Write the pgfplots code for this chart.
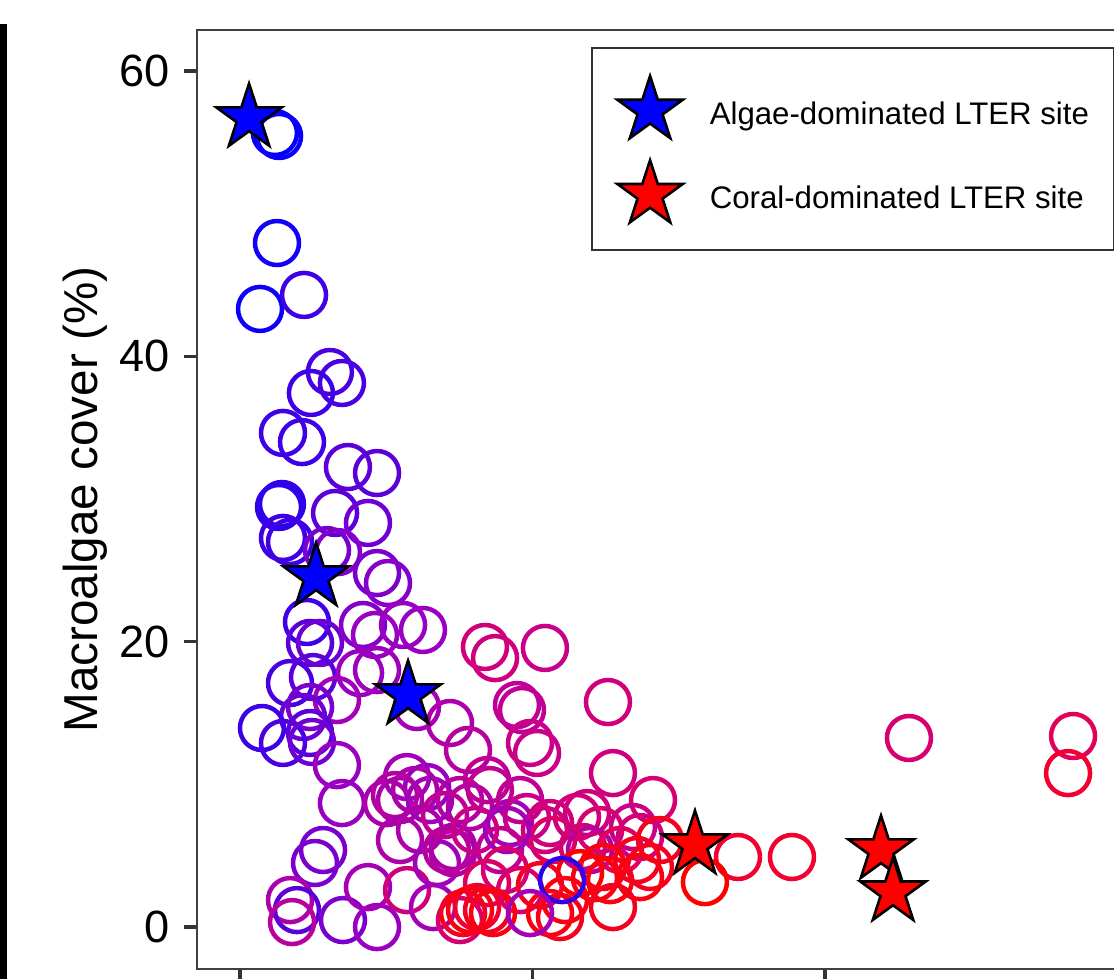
\documentclass[border=0pt]{standalone}
\usepackage{fontspec}
\setmainfont{Liberation Sans}
\usepackage{pgfplots}
\pgfplotsset{compat=1.18}
\usepackage{pgfplotstable}

\pgfdeclareplotmark{fstar}{%
  \pgfpathmoveto{\pgfpointpolar{90}{\pgfplotmarksize}}%
  \pgfpathlineto{\pgfpointpolar{126}{0.382\pgfplotmarksize}}%
  \pgfpathlineto{\pgfpointpolar{162}{\pgfplotmarksize}}%
  \pgfpathlineto{\pgfpointpolar{198}{0.382\pgfplotmarksize}}%
  \pgfpathlineto{\pgfpointpolar{234}{\pgfplotmarksize}}%
  \pgfpathlineto{\pgfpointpolar{270}{0.382\pgfplotmarksize}}%
  \pgfpathlineto{\pgfpointpolar{306}{\pgfplotmarksize}}%
  \pgfpathlineto{\pgfpointpolar{342}{0.382\pgfplotmarksize}}%
  \pgfpathlineto{\pgfpointpolar{18}{\pgfplotmarksize}}%
  \pgfpathlineto{\pgfpointpolar{54}{0.382\pgfplotmarksize}}%
  \pgfpathclose
  \pgfusepathqfillstroke
}

\pgfplotstableread{
x y c
2.39 55.65 0.00
2.67 55.44 0.02
2.53 47.94 0.03
1.37 43.32 0.02
4.38 44.30 0.10
6.15 38.90 0.12
6.97 38.13 0.12
4.85 37.43 0.10
2.94 34.63 0.10
4.24 33.99 0.10
7.38 32.24 0.15
9.37 31.82 0.15
2.87 29.65 0.08
2.67 29.44 0.08
2.94 27.27 0.10
3.42 26.99 0.10
6.50 29.02 0.15
8.75 28.32 0.18
5.95 26.42 0.20
6.70 26.28 0.22
9.37 24.81 0.20
10.12 24.11 0.22
4.58 21.38 0.10
4.79 19.91 0.15
5.47 19.91 0.18
8.41 21.17 0.22
9.23 20.47 0.25
11.15 21.17 0.25
12.51 20.82 0.25
3.42 17.10 0.12
4.99 17.52 0.15
8.21 17.80 0.25
9.37 18.01 0.28
6.63 15.91 0.30
4.79 15.42 0.20
4.31 14.72 0.18
1.50 13.95 0.10
2.94 12.90 0.12
4.79 13.60 0.15
4.92 12.97 0.18
12.10 15.42 0.30
14.36 14.30 0.35
15.59 12.41 0.40
6.63 11.35 0.25
6.97 8.69 0.25
16.75 19.63 0.55
17.44 18.85 0.55
20.85 19.56 0.50
11.42 10.51 0.30
12.79 9.81 0.25
10.94 8.90 0.35
10.60 9.25 0.40
10.05 8.69 0.35
15.04 8.90 0.40
5.68 5.40 0.20
5.13 4.49 0.20
3.42 1.89 0.35
3.90 1.19 0.15
3.56 0.35 0.40
7.04 0.49 0.20
9.37 0.00 0.25
8.75 2.80 0.30
11.42 2.59 0.55
10.94 6.10 0.35
12.31 6.80 0.35
13.47 4.49 0.30
14.56 5.19 0.40
18.94 15.56 0.45
19.28 15.21 0.45
19.83 12.90 0.50
20.31 12.20 0.50
25.16 15.77 0.55
25.50 10.79 0.55
16.89 10.30 0.45
17.09 9.60 0.45
15.73 8.41 0.40
18.46 7.29 0.30
19.62 7.71 0.50
23.04 7.71 0.55
23.73 7.99 0.55
14.56 5.61 0.35
14.15 5.40 0.40
17.78 5.40 0.45
21.40 6.10 0.65
23.45 5.61 0.60
13.20 1.40 0.30
16.89 3.08 0.65
12.99 8.90 0.30
11.97 9.60 0.35
14.02 7.85 0.45
16.07 6.80 0.50
19.15 8.90 0.45
20.85 6.80 0.55
28.24 8.90 0.60
21.20 7.29 0.55
18.26 6.80 0.30
26.87 7.01 0.50
27.35 6.31 0.55
23.93 5.40 0.40
25.98 5.40 0.70
24.62 6.80 0.60
28.72 6.10 0.90
45.74 13.25 0.60
56.96 13.39 0.70
56.62 10.79 0.85
34.05 4.91 0.85
37.74 4.91 0.85
15.04 0.49 0.60
18.12 4.00 0.60
19.15 2.59 0.60
15.25 0.98 0.90
16.21 1.40 0.85
23.25 3.78 1.00
24.82 4.21 0.95
15.73 1.19 0.95
16.89 1.19 0.90
21.20 0.98 0.95
24.27 3.43 0.95
25.30 3.29 0.95
27.15 4.70 0.90
28.03 4.21 0.90
27.35 3.50 0.95
21.88 0.70 0.90
17.30 0.98 0.95
25.50 1.40 0.90
20.51 2.94 0.90
22.22 1.89 0.95
31.79 3.15 1.00
22.02 3.29 0.08
19.83 0.98 0.30
}\circdata

\pgfplotstableread{
x y
0.62 56.70
5.20 24.53
11.49 16.26
}\algae

\pgfplotstableread{
x y
31.11 5.75
43.83 5.40
44.65 2.45
}\coral

\pgfplotsset{colormap={bluered}{rgb255(0cm)=(0,0,255); rgb255(1cm)=(154,0,194); rgb255(2cm)=(202,0,137); rgb255(3cm)=(232,0,79); rgb255(4cm)=(255,0,0)}}

\begin{document}
\begin{tikzpicture}
\path[use as bounding box] (-49.25pt,-2.25pt) rectangle (229.25pt,242.25pt);
\clip (-49.25pt,-2.25pt) rectangle (229.25pt,242.25pt);
\begin{axis}[
  at={(0pt,0pt)}, anchor=south west,
  scale only axis, width=237.44pt, height=234.75pt,
  xmin=-2.94, xmax=62, ymin=-2.94, ymax=62.87,
  xtick={0,20,40,60}, xticklabels={}, ytick={0,20,40,60},
  tick align=outside, tick pos=left,
  major tick length=3.25pt,
  major tick style={draw=black!80, line width=0.85pt},
  axis line style={draw=black!75, line width=0.7pt},
  /pgf/number format/assume math mode=true,
  tick label style={font=\fontsize{11.3}{13}\selectfont, text=black},
  ylabel={Macroalgae cover (\%)},
  ylabel style={font=\fontsize{11.9}{14}\selectfont, at={(axis description cs:-0.118,0.5)}, anchor=center},
  colormap name=bluered, point meta min=0, point meta max=1,
  legend cell align=left,
  legend image code/.code={\draw[#1, only marks] plot coordinates {(0pt,0pt)};},
  legend style={at={(rel axis cs:0.4148,0.9819)}, anchor=north west,
    draw=black!80, line width=0.5pt, fill=white,
    inner xsep=6.35pt, inner ysep=7pt, row sep=5.5pt, column sep=6.75pt,
    font=\fontsize{7.8}{9}\selectfont,
    nodes={inner sep=0pt, text depth=0pt, yshift=-0.6pt}},
]
\addplot[scatter, only marks, scatter src=explicit, mark=o, mark size=5.5pt, line width=1.12pt,
  scatter/use mapped color={draw=mapped color}, forget plot]
  table[x=x, y=y, meta=c] {\circdata};
\addplot[only marks, mark=fstar, mark size=8.6pt, draw=black, fill=blue, line width=0.65pt]
  table[x=x, y=y] {\algae};
\addlegendentry{Algae-dominated LTER site}
\addplot[only marks, mark=fstar, mark size=8.6pt, draw=black, fill=red, line width=0.65pt]
  table[x=x, y=y] {\coral};
\addlegendentry{Coral-dominated LTER site}
\end{axis}
\draw[line width=1.75pt, black] (-60pt,235.4pt) -- (-48.4pt,235.4pt) -- (-48.4pt,-10pt);
\end{tikzpicture}
\end{document}
